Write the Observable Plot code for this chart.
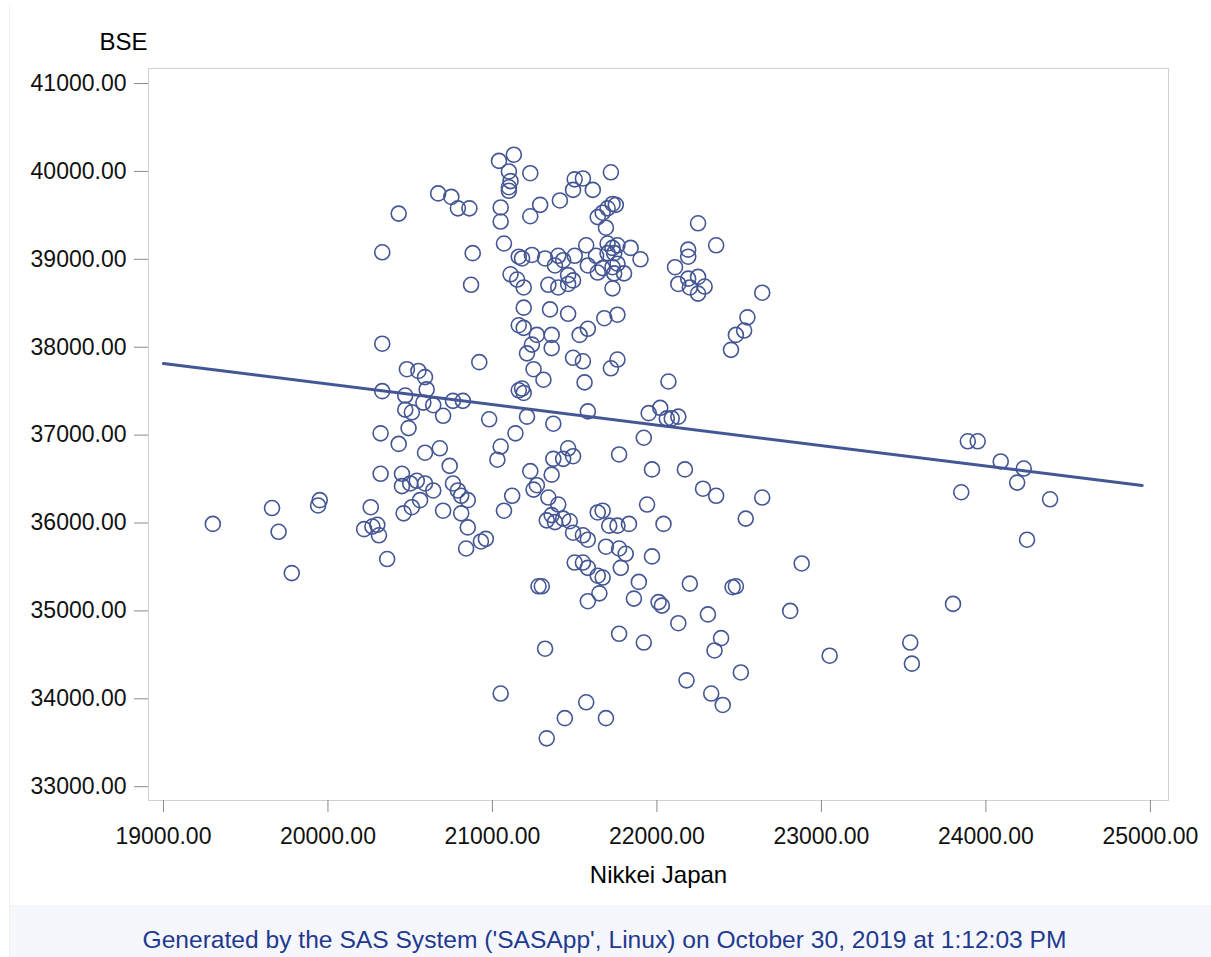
<!DOCTYPE html>
<html>
<head>
<meta charset="utf-8">
<script src="https://cdn.jsdelivr.net/npm/d3@7"></script>
<script src="https://cdn.jsdelivr.net/npm/@observablehq/plot@0.6"></script>
<style>
  html, body { margin: 0; padding: 0; background: #fff; }
  body { width: 1211px; height: 957px; position: relative; overflow: hidden;
         font-family: "Liberation Sans", Arial, sans-serif; }
  #chart { position: absolute; left: 0; top: 0; }
  #edge { position: absolute; left: 9px; top: 6px; width: 1px; height: 951px; background: #f0f0f0; }
  #footer { position: absolute; left: 10px; top: 905px; width: 1201px; height: 52px;
            background: #f6f7fc; color: #1f3a8f; font-size: 24.6px; line-height: 1;
            text-align: center; box-sizing: border-box; padding-top: 23px; padding-right: 12px; }
</style>
</head>
<body>
<div id="edge"></div>
<div id="chart"></div>
<div id="footer">Generated by the SAS System ('SASApp', Linux) on October 30, 2019 at 1:12:03 PM</div>
<script>
// Nikkei Japan (x) values
const nikkei = [
  19300,19660,19700,19780,19950,19940,20220,20260,20270,20300,20310,20360,20320,20320,20330,20330,20330,20430,20430,20470,
  20470,20510,20490,20450,20450,20460,20480,20550,20590,20600,20580,20640,20700,20760,20820,20980,20920,20590,20680,20740,
  20500,20540,20590,20640,20760,20790,20810,20850,20560,20510,20700,20810,21120,21070,21270,21250,21340,21330,21380,21360,
  20850,20840,20930,20960,21280,21300,21320,21050,21440,21330,21160,21180,21190,21210,21370,21140,21050,21030,21230,21360,
  21250,21310,21240,21210,21360,21270,21360,21160,21190,21040,21130,21100,21110,21100,21100,21230,20670,20750,20790,20860,
  21050,21050,21290,21230,21410,20880,21070,21160,21180,21240,21320,21380,21400,20870,21110,21150,21190,21340,21400,21190,
  21350,21720,21500,21550,21490,21610,21730,21750,21700,21670,21640,21690,22250,22360,22190,22190,22110,22130,22190,22250,
  22290,22250,22200,21570,21700,21730,21760,21740,21700,21840,21900,21430,21500,21630,21580,21640,21670,21730,21760,21800,
  21740,21460,21490,21460,21730,21460,21680,21760,21580,21530,22640,22550,22530,22480,21490,21550,21760,21720,21560,22070,
  22450,21580,21950,22020,22060,22090,22130,21920,21770,21370,21430,21460,21490,21970,22170,22280,22360,22640,21940,21400,
  21640,21670,21470,21430,22540,21710,21760,21830,22040,21490,21550,21580,21690,21770,21810,21970,21500,21550,21580,21780,
  21640,21670,21890,22200,22460,22480,21650,21580,21860,22010,22030,22130,22310,22390,22350,21770,21920,22510,22180,22330,
  22400,21570,21690,23890,23950,24090,24230,24190,23850,24390,24250,22880,22810,23800,23050,23540,23550
];
// BSE (y) values
const bse = [
  35990,36170,35900,35430,36260,36200,35930,36180,35960,35980,35860,35590,37020,36560,39080,38040,37500,39520,36900,37450,
  37290,37260,37080,36560,36420,36110,37750,37730,37660,37520,37370,37340,37220,37390,37390,37180,37830,36800,36850,36650,
  36450,36480,36450,36370,36450,36370,36310,36260,36260,36180,36140,36110,36310,36140,36430,36380,36290,36030,36010,36090,
  35950,35710,35790,35820,35280,35280,34570,34060,33780,33550,37510,37530,37480,37210,37130,37020,36870,36720,36590,36550,
  37750,37630,38030,37930,37990,38140,38140,38250,38220,40120,40190,40000,39890,39820,39780,39980,39750,39710,39580,39580,
  39590,39430,39620,39490,39670,39070,39180,39030,39010,39050,39010,38930,39040,38710,38830,38770,38680,38710,38680,38450,
  38430,39990,39910,39920,39790,39790,39630,39620,39580,39530,39480,39360,39410,39160,39110,39030,38910,38720,38780,38800,
  38690,38610,38680,39160,39180,39130,39160,39070,39070,39130,39000,38990,39040,39040,38930,38850,38900,38910,38950,38840,
  38840,38820,38760,38720,38670,38380,38330,38370,38210,38140,38620,38340,38190,38140,37880,37840,37860,37760,37600,37610,
  37970,37270,37250,37310,37190,37190,37210,36970,36780,36730,36730,36850,36760,36610,36610,36390,36310,36290,36210,36210,
  36120,36140,36020,36050,36050,35970,35970,35990,35990,35890,35860,35810,35730,35710,35650,35620,35550,35550,35490,35490,
  35400,35380,35330,35310,35270,35280,35200,35110,35140,35100,35060,34860,34960,34690,34550,34740,34640,34300,34210,34060,
  33930,33960,33780,36930,36930,36700,36620,36460,36350,36270,35810,35540,35000,35080,34490,34640,34400
];
// fitted regression line end points
const lineX = [19000, 24950];
const lineY = [37814, 36426];
// axis ticks
const xTicks = [19000, 20000, 21000, 22000, 23000, 24000, 25000];
const yTicks = [33000, 34000, 35000, 36000, 37000, 38000, 39000, 40000, 41000];

const points = nikkei.map((x, i) => ({x, y: bse[i]}));
const fit = lineX.map((x, i) => ({x, y: lineY[i]}));
const fmt = d3.format(".2f");
const blue = "#445694";

const chart = Plot.plot({
  width: 1211,
  height: 905,
  marginLeft: 148,
  marginRight: 43,
  marginTop: 68,
  marginBottom: 105,
  style: {fontFamily: "'Liberation Sans', Arial, sans-serif", fontSize: "23px", color: "#000", background: "transparent", overflow: "visible"},
  x: {domain: [18909, 25110]},
  y: {domain: [32843, 41171]},
  marks: [
    Plot.frame({stroke: "#d0d0d0", strokeWidth: 1}),
    Plot.axisX({ticks: xTicks, tickFormat: fmt, tickSize: 12, tickPadding: 15, stroke: "#8a8a8a", label: null, fontSize: 23, fill: "#111"}),
    Plot.axisY({ticks: yTicks, tickFormat: fmt, tickSize: 14, tickPadding: 8, stroke: "#8a8a8a", label: null, fontSize: 23, fill: "#111"}),
    Plot.line(fit, {x: "x", y: "y", stroke: blue, strokeWidth: 3}),
    Plot.dot(points, {x: "x", y: "y", r: 7.5, stroke: blue, strokeWidth: 1.6, fill: "none"}),
    Plot.text(["BSE"], {frameAnchor: "top-left", text: d => d, textAnchor: "end", dx: -1, dy: -36, fontSize: 24, fill: "#000"}),
    Plot.text(["Nikkei Japan"], {frameAnchor: "bottom", text: d => d, dy: 82, fontSize: 24, fill: "#000"})
  ]
});
document.getElementById("chart").appendChild(chart);
</script>
</body>
</html>
